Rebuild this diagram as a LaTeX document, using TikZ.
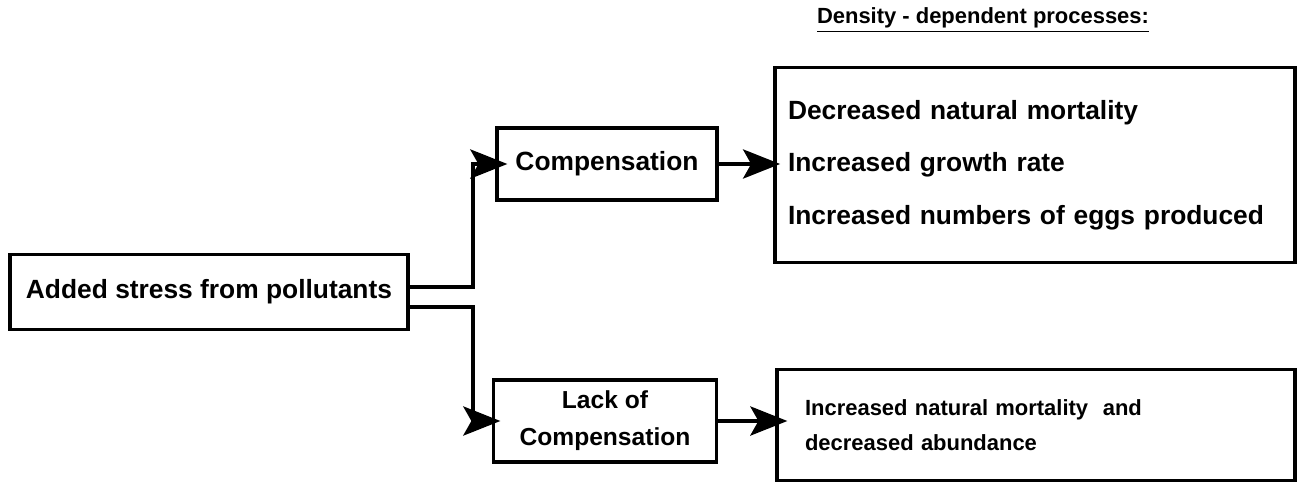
\documentclass[tikz,border=0pt]{standalone}
\usepackage{fontspec}
\setmainfont{Liberation Sans}
\usetikzlibrary{positioning,arrows.meta}

\begin{document}
\begin{tikzpicture}[
        x=0.02cm, y=-0.02cm,
        font=\bfseries\fontsize{15}{18}\selectfont,
        box/.style={
            rectangle,
            draw=black,
            line width=2.2pt,
            align=center,
            inner sep=4pt
        },
        flow/.style={
            -{Stealth[length=0.74cm, width=0.58cm, inset=0.16cm]},
            line width=2.6pt,
            shorten >=-4pt
        },
        heading/.style={
            font=\bfseries\fontsize{12.5}{16}\selectfont
        }
    ]
        \useasboundingbox (0,0) rectangle (1300,483);

        % Source
        \node[box, minimum width=7.96cm, minimum height=1.5cm] (stress) at (209,292)
            {Added stress from pollutants};

        % Responses
        \node[box, minimum width=4.4cm, minimum height=1.44cm] (comp) at (607,164)
            {Compensation};
        \node[box, minimum width=4.46cm, minimum height=1.64cm,
              font=\bfseries\fontsize{14}{21}\selectfont] (lack) at (605,421)
            {Lack of\\Compensation};

        % Outcomes
        \node[box, align=left, minimum height=3.9cm, text width=9.88cm, inner xsep=0.26cm,
              font=\bfseries\fontsize{15}{29.8}\selectfont] (dens) at (1035,165)
            {Decreased natural mortality\\
             Increased growth rate\\
             Increased numbers of eggs produced};
        \node[box, align=left, minimum height=2.22cm, text width=9.24cm, inner xsep=0.56cm,
              font=\bfseries\fontsize{12.5}{20}\selectfont] (low) at (1036,425)
            {Increased natural mortality\ \ and\\
             decreased abundance};

        \node[heading] (title) at (983,20) {\underline{Density - dependent processes:}};

        % Branches
        \coordinate (up) at (473,287);
        \coordinate (dn) at (473,307);

        \draw[flow, shorten >=-7pt] (stress.east |- up) -- (up) |- (comp.west);
        \draw[flow, shorten >=-5pt] (stress.east |- dn) -- (dn) |- (lack.west);
        \draw[flow] (comp.east) -- (comp.east -| dens.west);
        \draw[flow, shorten >=-7pt] (lack.east) -- (lack.east -| low.west);

    \end{tikzpicture}
\end{document}
